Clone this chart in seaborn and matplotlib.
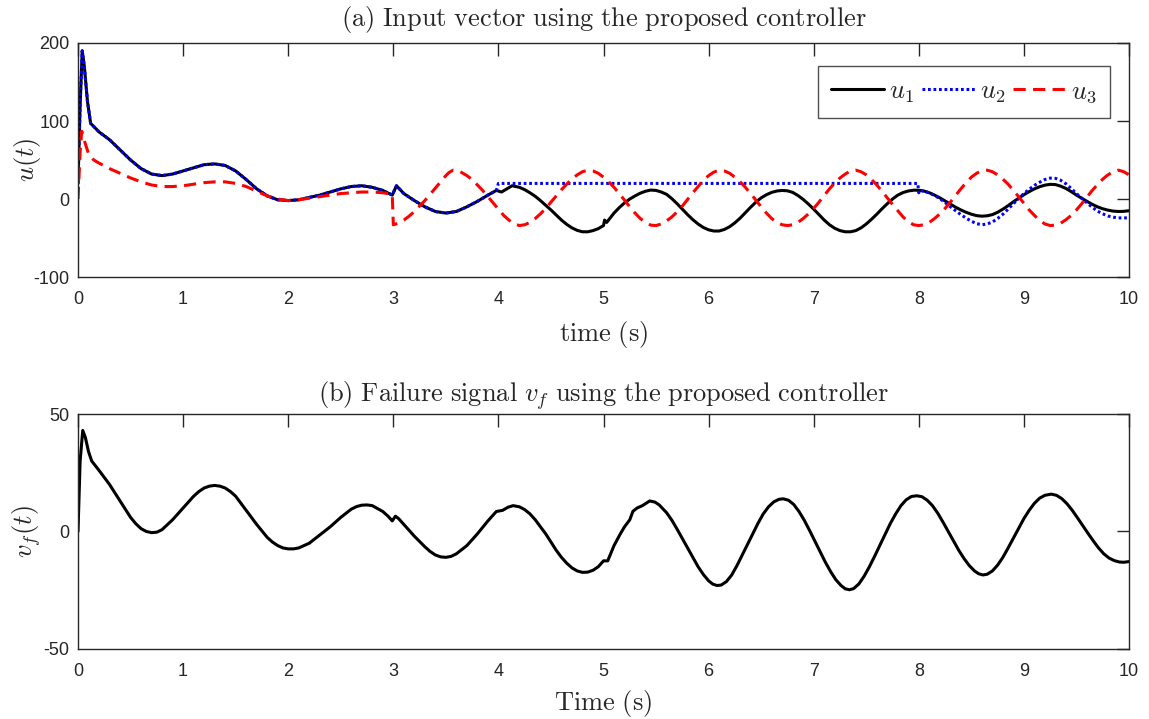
import numpy as np
import pandas as pd
import matplotlib
matplotlib.use("Agg")
import matplotlib.pyplot as plt
import seaborn as sns

# ---------------- data ----------------
t_u1 = [0, 0.02, 0.04, 0.06, 0.09, 0.12, 0.2, 0.3, 0.4, 0.5, 0.6, 0.7, 0.8, 0.9, 1.0,
        1.1, 1.2, 1.3, 1.4, 1.5, 1.6, 1.7, 1.8, 1.9, 2.0, 2.1, 2.2, 2.3, 2.4, 2.5, 2.6,
        2.7, 2.8, 2.9, 2.99, 3.03, 3.1, 3.2, 3.3, 3.4, 3.5, 3.6, 3.7, 3.8, 3.9, 3.98,
        4.03, 4.13,
        4.2, 4.25, 4.3, 4.35, 4.4, 4.45, 4.5, 4.55, 4.6, 4.65, 4.7, 4.75, 4.8, 4.85, 4.9,
        4.95, 5.0, 5.01, 5.03, 5.1, 5.15, 5.2, 5.25, 5.3, 5.35, 5.4, 5.45, 5.5, 5.55, 5.6,
        5.65, 5.7, 5.75, 5.8, 5.85, 5.9, 5.95, 6.0, 6.05, 6.1, 6.15, 6.2, 6.25, 6.3, 6.35,
        6.4, 6.45, 6.5, 6.55, 6.6, 6.65, 6.7, 6.75, 6.8, 6.85, 6.9, 6.95, 7.0, 7.05, 7.1,
        7.15, 7.2, 7.25, 7.3, 7.35, 7.4, 7.45, 7.5, 7.55, 7.6, 7.65, 7.7, 7.75, 7.8, 7.85,
        7.9, 7.95, 8.0, 8.05, 8.1, 8.15, 8.2, 8.25, 8.3, 8.35, 8.4, 8.45, 8.5, 8.55, 8.6,
        8.65, 8.7, 8.75, 8.8, 8.85, 8.9, 8.95, 9.0, 9.05, 9.1, 9.15, 9.2, 9.25, 9.3, 9.35,
        9.4, 9.45, 9.5, 9.55, 9.6, 9.65, 9.7, 9.75, 9.8, 9.85, 9.9, 9.95, 10.0]
u1 = [20, 120, 190, 170, 125, 97, 86, 76, 63, 50, 39, 32, 30, 32, 36,
      40, 44, 45, 43, 36, 25, 13, 4, -1, -2, -1, 2, 5, 9, 13, 16,
      17, 15, 11, 5, 17, 7, -2, -10, -16, -18, -16, -10, -3, 5, 11,
      9, 17,
      15, 12, 8, 3.5, -2, -8, -14, -20.5, -27, -32.5, -37, -40.2, -42, -42, -40.5,
      -38, -34, -27, -30, -18, -11, -5, 0, 4, 7.5, 10, 11.5, 11, 9, 6,
      0.5, -6, -13, -20, -26.5, -32, -36.5, -39.5, -41, -41, -39, -35.5, -30.5, -24.5, -17.5,
      -10.5, -4, 1.5, 5.5, 8.5, 10.3, 11, 10.5, 8.5, 4.5, -0.5, -6.5, -13, -20, -27,
      -33, -37.5, -40.5, -42, -42, -40.5, -37, -32, -26, -19.5, -12.5, -6, 0, 5, 8.3,
      10.3, 11.3, 11.3, 10.2, 8, 5, 1.5, -2.5, -6.5, -10.5, -14, -17, -19.5, -21.3, -22,
      -21.5, -20, -17, -13, -8.5, -3.5, 1, 5.5, 9.5, 13, 15.8, 17.8, 18.8, 18.5, 16.5,
      13.5, 9.5, 5, 1, -3, -6.8, -10, -12.5, -14.3, -15.5, -16, -15.8, -15]

t_u2 = [0, 0.02, 0.04, 0.06, 0.09, 0.12, 0.2, 0.3, 0.4, 0.5, 0.6, 0.7, 0.8, 0.9, 1.0,
        1.1, 1.2, 1.3, 1.4, 1.5, 1.6, 1.7, 1.8, 1.9, 2.0, 2.1, 2.2, 2.3, 2.4, 2.5, 2.6,
        2.7, 2.8, 2.9, 2.99, 3.03, 3.1, 3.2, 3.3, 3.4, 3.5, 3.6, 3.7, 3.8, 3.9, 3.98,
        4.0, 7.99, 8.0, 8.01, 8.05, 8.1, 8.15, 8.2, 8.25, 8.3, 8.35, 8.4, 8.45, 8.5, 8.55,
        8.6, 8.65, 8.7, 8.75, 8.8, 8.85, 8.9, 8.95, 9.0, 9.05, 9.1, 9.15, 9.2, 9.25, 9.3,
        9.35, 9.4, 9.45, 9.5, 9.55, 9.6, 9.65, 9.7, 9.75, 9.8, 9.85, 9.9, 9.95, 10.0]
u2 = [20, 120, 190, 170, 125, 97, 86, 76, 63, 50, 39, 32, 30, 32, 36,
      40, 44, 45, 43, 36, 25, 13, 4, -1, -2, -1, 2, 5, 9, 13, 16,
      17, 15, 11, 5, 17, 7, -2, -10, -16, -18, -16, -10, -3, 5, 11,
      20, 20, 8, 11, 10, 8, 4.5, 0.5, -4.5, -10, -15, -20, -24.5, -28.5, -31.5,
      -33, -32, -29.5, -25, -19.5, -13, -6, 0.5, 7, 12.5, 17.5, 21.5, 25, 26.8, 26.5,
      24, 19.5, 13.5, 7, 1, -5, -10.5, -15.5, -19, -21.8, -23.3, -24.2, -24.3, -24]

t_u3 = [0, 0.02, 0.035, 0.06, 0.1, 0.15, 0.2, 0.3, 0.4, 0.5, 0.6, 0.7, 0.8, 0.9, 1.0,
        1.1, 1.2, 1.3, 1.4, 1.5, 1.6, 1.7, 1.8, 1.9, 2.0, 2.1, 2.2, 2.3, 2.4, 2.5, 2.6,
        2.7, 2.8, 2.9, 2.99,
        3.0, 3.05, 3.1, 3.15, 3.2, 3.25, 3.3, 3.35, 3.4, 3.45, 3.5, 3.53, 3.57, 3.61, 3.65,
        3.7, 3.75, 3.8, 3.85, 3.9, 3.95, 4.0, 4.05, 4.1, 4.15, 4.2, 4.25, 4.3, 4.35, 4.4,
        4.45, 4.5, 4.55, 4.6, 4.65, 4.7, 4.75, 4.8, 4.85, 4.9, 4.95, 5.0, 5.05, 5.1, 5.15,
        5.2, 5.25, 5.3, 5.35, 5.4, 5.45, 5.5, 5.55, 5.6, 5.65, 5.7, 5.75, 5.8, 5.85, 5.9,
        5.95, 6.0, 6.05, 6.1, 6.15, 6.2, 6.25, 6.3, 6.35, 6.4, 6.45, 6.5, 6.55, 6.6, 6.65,
        6.7, 6.75, 6.8, 6.85, 6.9, 6.95, 7.0, 7.05, 7.1, 7.15, 7.2, 7.25, 7.3, 7.35, 7.4,
        7.45, 7.5, 7.55, 7.6, 7.65, 7.7, 7.75, 7.8, 7.85, 7.9, 7.95, 8.0, 8.05, 8.1, 8.15,
        8.2, 8.25, 8.3, 8.35, 8.4, 8.45, 8.5, 8.55, 8.6, 8.65, 8.7, 8.75, 8.8, 8.85, 8.9,
        8.95, 9.0, 9.05, 9.1, 9.15, 9.2, 9.25, 9.3, 9.35, 9.4, 9.45, 9.5, 9.55, 9.6, 9.65,
        9.7, 9.75, 9.8, 9.85, 9.9, 9.95, 10.0]
u3 = [0, 60, 87, 75, 58, 50, 46, 39, 33, 27, 22, 18, 16, 16, 17,
      19, 21, 22, 22, 20, 16, 10, 4, 0, -2, -1, 1, 3, 5, 7, 8,
      9, 9, 8, 6,
      -33, -31, -27, -22, -16, -9, -2, 6, 14, 22, 30, 34, 37, 36.5, 34,
      30, 25, 18, 11, 3, -5, -13, -21, -27, -32, -34, -33, -30, -25, -19,
      -12, -4, 4, 12, 19, 26, 31, 35, 37, 36, 33, 28, 22, 15, 7,
      -1.5, -10, -18, -25, -30, -33.5, -34, -32, -28, -23, -16.5, -9, -0.5, 8, 16,
      24, 30, 34.5, 37, 36, 33, 28, 22, 15, 7, -1.5, -10, -18, -25, -30,
      -33, -34, -33, -30, -25, -19, -12, -4, 4.5, 13, 20.5, 27, 32, 36, 37,
      35, 31, 25, 18, 10, 1.5, -7, -15, -23, -29, -33, -34, -33, -30, -25,
      -19, -12, -4, 4.5, 13, 21, 28, 33, 36.5, 37, 35, 31, 25.5, 19, 11,
      3, -5.5, -14, -21, -27.5, -32, -34, -33.5, -31, -26.5, -21, -14, -6, 2.5, 11,
      18.5, 25.5, 31, 35, 37, 35, 31]

t_vf = [0, 0.02, 0.045, 0.07, 0.1, 0.13, 0.2, 0.3, 0.4, 0.5, 0.55, 0.6, 0.65, 0.7, 0.75,
        0.8, 0.9, 1.0, 1.1, 1.15, 1.2, 1.25, 1.3, 1.35, 1.4, 1.45, 1.5, 1.6, 1.7, 1.8,
        1.85, 1.9, 1.95, 2.0, 2.05, 2.1, 2.2, 2.3, 2.4, 2.5, 2.6, 2.65, 2.7, 2.75, 2.8,
        2.9, 2.95, 2.99, 3.02, 3.05, 3.1, 3.2, 3.3, 3.35, 3.4, 3.45, 3.5, 3.55, 3.6, 3.7,
        3.8, 3.9, 3.98, 4.04, 4.09, 4.14, 4.2, 4.25, 4.3, 4.35, 4.4, 4.45, 4.5, 4.55, 4.6,
        4.65, 4.7, 4.75, 4.8, 4.85, 4.9, 4.95, 4.98, 5.0, 5.04, 5.1, 5.16, 5.2, 5.25, 5.28,
        5.32, 5.37, 5.44, 5.49, 5.53, 5.6, 5.65, 5.7, 5.75, 5.8, 5.85, 5.9, 5.95, 6.0,
        6.04, 6.08, 6.12, 6.17, 6.22, 6.27, 6.32, 6.37, 6.42, 6.47, 6.52, 6.57, 6.62, 6.67,
        6.71, 6.76, 6.81, 6.86, 6.91, 6.96, 7.01, 7.06, 7.11, 7.16, 7.21, 7.26, 7.3, 7.34,
        7.38, 7.43, 7.48, 7.53, 7.58, 7.63, 7.68, 7.73, 7.78, 7.83, 7.88, 7.93, 7.98, 8.03,
        8.08, 8.13, 8.18, 8.23, 8.28, 8.33, 8.38, 8.43, 8.48, 8.53, 8.57, 8.61, 8.65, 8.7,
        8.75, 8.8, 8.85, 8.9, 8.95, 9.0, 9.05, 9.1, 9.15, 9.2, 9.26, 9.31, 9.36, 9.41,
        9.46, 9.51, 9.56, 9.61, 9.66, 9.71, 9.76, 9.81, 9.86, 9.91, 9.95, 10.0]
vf = [0, 30, 43, 40, 34, 30, 26, 20, 13, 6, 3.3, 1.2, 0, -0.5, -0.3,
      0.8, 5, 10, 15, 17, 18.5, 19.3, 19.6, 19.3, 18.5, 17, 15, 9, 3, -2.5,
      -4.5, -6, -7, -7.4, -7.4, -7, -5, -1.5, 2, 6, 9.5, 10.6, 11.2, 11.3, 11,
      8.5, 6.5, 4.5, 6.5, 5.5, 3, -2, -6.5, -8.5, -10, -10.8, -11, -10.6, -9.5, -6,
      -1, 4.5, 8.5, 9, 10.3, 11, 10.5, 9.3, 7.5, 5, 2, -1, -4.5, -8, -11,
      -13.5, -15.5, -16.8, -17.4, -17.3, -16.5, -15, -13.5, -12.5, -12.5, -6, -1, 2, 5, 8.6,
      10, 11, 13, 12.5, 11.3, 8, 4.8, 1, -3, -7, -11, -15, -18.3, -21,
      -22.4, -23, -22.8, -21.3, -18.5, -14.5, -10, -5.5, -1, 3.5, 7.5, 10.5, 12.6, 13.7,
      13.9, 13.3, 11.5, 8.5, 4.8, 0.5, -4, -8.5, -13, -17, -20.5, -23, -24.4, -24.8,
      -24.3, -22.3, -19, -15, -10.5, -5.8, -1, 3.5, 7.5, 11, 13.5, 14.9, 15.2, 14.8,
      13.3, 11, 7.8, 4, 0, -4, -8, -11.5, -14.5, -16.8, -18, -18.5, -18.2, -16.8,
      -14.3, -11, -7, -2.8, 1.5, 5.5, 9, 12, 14.2, 15.4, 15.9, 15.4, 14, 11.8,
      9, 5.8, 2.5, -0.8, -4, -7, -9.5, -11.3, -12.4, -13, -13.1, -12.8]

x_ticks = [0, 1, 2, 3, 4, 5, 6, 7, 8, 9, 10]
y_ticks_top = [-100, 0, 100, 200]
y_ticks_bot = [-50, 0, 50]

# ---------------- style ----------------
sns.set_theme(style="white")
plt.rcParams["font.family"] = ["Liberation Sans", "DejaVu Sans"]
plt.rcParams["mathtext.fontset"] = "cm"
plt.rcParams["axes.unicode_minus"] = False

fig = plt.figure(figsize=(11.49, 7.19), dpi=100)
ax1 = fig.add_axes([0.0679, 0.6147, 0.9147, 0.3255])
ax2 = fig.add_axes([0.0679, 0.0974, 0.9147, 0.3268])

lw = 2.2
df1 = pd.DataFrame({"t": t_u1, "v": u1})
df2 = pd.DataFrame({"t": t_u2, "v": u2})
df3 = pd.DataFrame({"t": t_u3, "v": u3})
dfv = pd.DataFrame({"t": t_vf, "v": vf})

sns.lineplot(data=df1, x="t", y="v", ax=ax1, color="black", lw=lw,
             sort=False, estimator=None, label=r"$u_1$")
sns.lineplot(data=df2, x="t", y="v", ax=ax1, color="#0000ff", lw=lw,
             linestyle=(0, (0.9, 0.9)), sort=False, estimator=None, label=r"$u_2$")
sns.lineplot(data=df3, x="t", y="v", ax=ax1, color="#ff0000", lw=lw,
             linestyle=(0, (4, 2.4)), sort=False, estimator=None, label=r"$u_3$")
sns.lineplot(data=dfv, x="t", y="v", ax=ax2, color="black", lw=lw,
             sort=False, estimator=None)

title_fs = 19
for ax, yt, ylim in [(ax1, y_ticks_top, (-100, 200)), (ax2, y_ticks_bot, (-50, 50))]:
    ax.set_xlim(0, 10)
    ax.set_ylim(*ylim)
    ax.set_xticks(x_ticks)
    ax.set_yticks(yt)
    ax.set_xticklabels([str(v) for v in x_ticks])
    ax.set_yticklabels([str(v) for v in yt])
    ax.tick_params(direction="in", length=9, width=1, top=True, right=True,
                   labelsize=13, colors="#262626")
    ax.tick_params(axis="x", pad=10)
    ax.tick_params(axis="y", pad=6)
    for s in ax.spines.values():
        s.set_color("#262626")
        s.set_linewidth(1.0)
        s.set_visible(True)

ax1.set_title(r"$\mathrm{(a)\ Input\ vector\ using\ the\ proposed\ controller}$",
              fontsize=title_fs, pad=12)
ax1.set_xlabel(r"$\mathrm{time\ (s)}$", fontsize=title_fs, labelpad=8)
ax1.set_ylabel(r"$u(t)$", fontsize=title_fs)
ax1.yaxis.set_label_coords(-0.033, 0.5)

ax2.set_title(r"$\mathrm{(b)\ Failure\ signal}\ v_f\ \mathrm{using\ the\ proposed\ controller}$",
              fontsize=title_fs, pad=9)
ax2.set_xlabel(r"$\mathrm{Time\ (s)}$", fontsize=title_fs, labelpad=6)
ax2.set_ylabel(r"$v_f(t)$", fontsize=title_fs)
ax2.yaxis.set_label_coords(-0.033, 0.5)

leg = ax1.legend(loc="upper right", ncol=3, fontsize=title_fs, frameon=True,
                 fancybox=False, handlelength=2.0, handletextpad=0.2,
                 columnspacing=0.3, borderpad=0.5, borderaxespad=0,
                 bbox_to_anchor=(0.982, 0.902))
leg.get_frame().set_edgecolor("#262626")
leg.get_frame().set_linewidth(1.0)

fig.savefig("out.png", dpi=100, facecolor="white")
